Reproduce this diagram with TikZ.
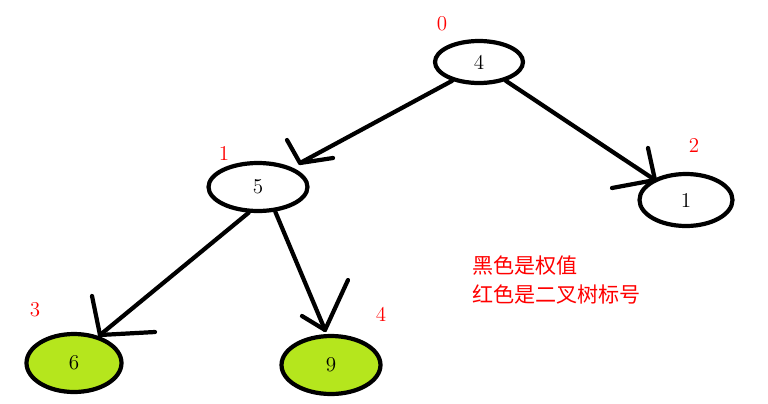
\documentclass[tikz,border=0pt]{standalone}
\usepackage{fontspec}
\newfontfamily\cjk{Noto Sans CJK SC}
\usetikzlibrary{shapes.geometric}
\definecolor{lime}{HTML}{B5E61D}
\begin{document}
\begin{tikzpicture}[x=0.02cm,y=-0.02cm,
  tnode/.style={draw=black,line width=2.4pt,ellipse,inner sep=0pt,font=\fontsize{12}{12}\selectfont},
  gnode/.style={tnode,fill=lime},
  edge/.style={line width=2.4pt,line cap=round,line join=round},
  lab/.style={text=red,font=\fontsize{12}{12}\selectfont},
  note/.style={text=red,anchor=west,font=\cjk\fontsize{12}{12}\selectfont}]
\useasboundingbox (0,0) rectangle (768,403);
\node[tnode,minimum width=1.76cm,minimum height=0.84cm] (a) at (479,62) {4};
\node[tnode,minimum width=1.98cm,minimum height=0.96cm] (b) at (258,187) {5};
\node[tnode,minimum width=1.86cm,minimum height=1.04cm] (c) at (686,200) {1};
\node[gnode,minimum width=1.9cm,minimum height=1.16cm] (d) at (74,363) {6};
\node[gnode,minimum width=1.98cm,minimum height=1.16cm] (e) at (331,365) {9};
\node[lab] (l0) at (442,24) {0};
\node[lab] (l1) at (224,153) {1};
\node[lab] (l2) at (694,145) {2};
\node[lab] (l3) at (35,310) {3};
\node[lab] (l4) at (381,314) {4};
\node[note] (t1) at (466,266) {黑色是权值};
\node[note] (t2) at (466,294) {红色是二叉树标号};
\coordinate (p1) at (300,163); \coordinate (p1a) at (287,140); \coordinate (p1b) at (333,158);
\coordinate (p2) at (655,180); \coordinate (p2a) at (648,148); \coordinate (p2b) at (612,188);
\coordinate (p3) at (100,335); \coordinate (p3a) at (92,296); \coordinate (p3b) at (155,332);
\coordinate (p4) at (325,330); \coordinate (p4a) at (302,316); \coordinate (p4b) at (348,280);
\draw[edge] (a.-145) -- (p1); \draw[edge] (p1a) -- (p1) -- (p1b);
\draw[edge] (a.-35) -- (p2); \draw[edge] (p2a) -- (p2) -- (p2b);
\draw[edge] (b.-110) -- (p3); \draw[edge] (p3a) -- (p3) -- (p3b);
\draw[edge] (b.-55) -- (p4); \draw[edge] (p4a) -- (p4) -- (p4b);
\end{tikzpicture}
\end{document}
